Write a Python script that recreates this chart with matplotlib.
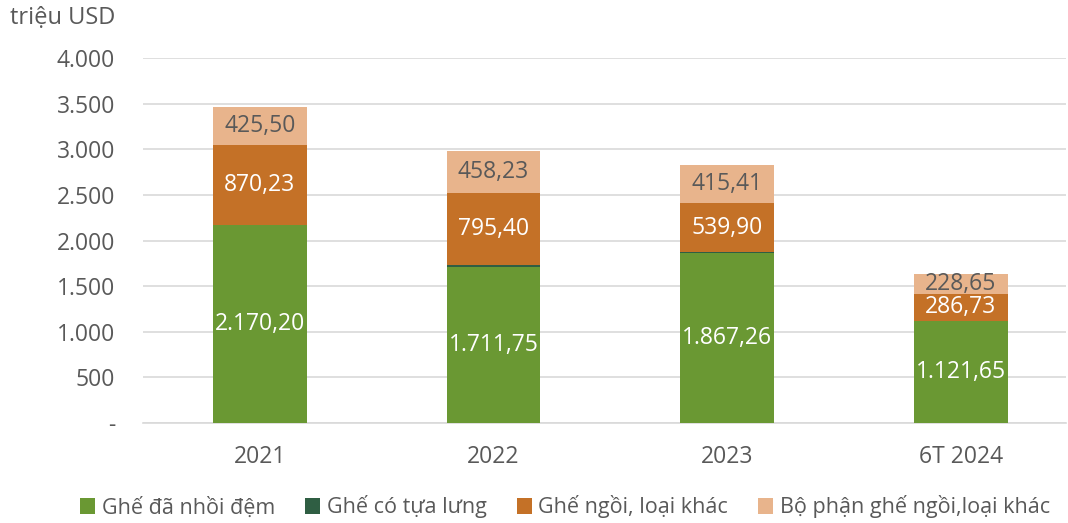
import matplotlib
matplotlib.use("Agg")
import matplotlib.pyplot as plt
import numpy as np

categories = ["2021", "2022", "2023", "6T 2024"]
series_names = ["Ghế đã nhồi đệm", "Ghế có tựa lưng", "Ghế ngồi, loại khác", "Bộ phận ghế ngồi,loại khác"]
nhoi_dem = [2170.20, 1711.75, 1867.26, 1121.65]
tua_lung = [1.0, 18.0, 3.0, 1.0]
ngoi_khac = [870.23, 795.40, 539.90, 286.73]
bo_phan = [425.50, 458.23, 415.41, 228.65]
yticks = [0, 500, 1000, 1500, 2000, 2500, 3000, 3500, 4000]
ytick_labels = ["-", "500", "1.000", "1.500", "2.000", "2.500", "3.000", "3.500", "4.000"]

colors = ["#6A9833", "#2F5E43", "#C47127", "#E8B48C"]
label_colors = ["white", None, "white", "#595959"]
show_labels = [True, False, True, True]

plt.rcParams['font.family'] = ['Open Sans', 'DejaVu Sans']
fig = plt.figure(figsize=(10.68, 5.23), dpi=100)
ax = fig.add_axes([143/1068, 1 - 423/523, (1066-143)/1068, (423-58)/523])

x = np.arange(len(categories))
width = 0.40
bottom = np.zeros(len(categories))
all_series = [nhoi_dem, tua_lung, ngoi_khac, bo_phan]
for vals, name, col, lc, show in zip(all_series, series_names, colors, label_colors, show_labels):
    vals = np.array(vals)
    ax.bar(x, vals, width, bottom=bottom, color=col, label=name, zorder=3)
    if show:
        for xi, b, v in zip(x, bottom, vals):
            s = f"{v:,.2f}".replace(",", "X").replace(".", ",").replace("X", ".")
            ax.text(xi, b + v / 2, s, ha="center", va="center", color=lc, fontsize=16.5, zorder=4)
    bottom += vals

ax.set_xlim(-0.5, 3.45)
ax.set_ylim(0, 4000)
ax.set_yticks(yticks)
ax.set_yticklabels(ytick_labels)
ax.set_xticks(x)
ax.set_xticklabels(categories)
ax.yaxis.grid(True, color="#D9D9D9", linewidth=1.2, zorder=0)
ax.set_axisbelow(True)
for sp in ["top", "right", "left"]:
    ax.spines[sp].set_visible(False)
ax.spines["bottom"].set_color("#D9D9D9")
ax.spines["bottom"].set_linewidth(1.2)
ax.tick_params(axis="both", length=0, labelsize=16.5, labelcolor="#595959")
ax.tick_params(axis="y", pad=20)
ax.tick_params(axis="x", pad=16)
for lbl in ax.get_yticklabels():
    lbl.set_horizontalalignment("right")

fig.text(10/1068, 1 - 18/523, "triệu USD", fontsize=17, color="#595959", va="center", ha="left")

leg = fig.legend(loc="center", bbox_to_anchor=(565/1068, 1 - 507/523), ncol=4, frameon=False,
                 fontsize=15.5, labelcolor="#595959", handlelength=0.7, handleheight=0.7,
                 handletextpad=0.3, columnspacing=1.4)

fig.savefig("out.png", dpi=100)
